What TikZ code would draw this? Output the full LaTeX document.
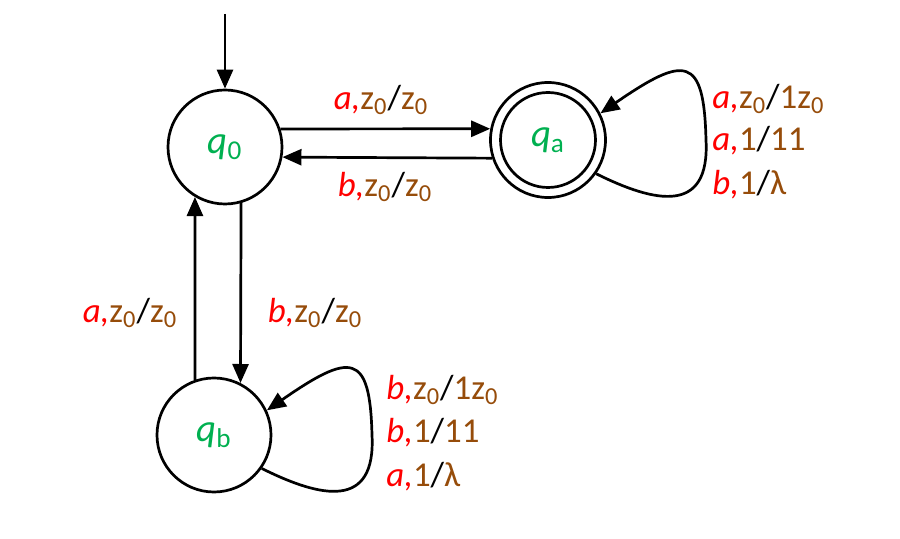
\documentclass[tikz,border=0pt]{standalone}
\usepackage{fontspec}
\setmainfont{Carlito}
\usetikzlibrary{arrows.meta}
\definecolor{brn}{RGB}{150,76,10}
\definecolor{grn}{RGB}{0,176,80}
\newcommand{\lab}[3]{\textcolor{red}{\textit{#1,}}\textcolor{brn}{#2}/\textcolor{brn}{#3}}
\newcommand{\zz}{z\textsubscript{0}}
\newcommand{\st}[1]{\textcolor{grn}{\textit{q}\textsubscript{#1}}}
\begin{document}
\begin{tikzpicture}[x=0.5bp,y=-0.5bp,
  every node/.style={font=\fontsize{17.5}{21}\selectfont},
  stlabel/.style={font=\fontsize{19.5}{23}\selectfont},
  state/.style={circle,draw,line width=1.35bp,minimum size=57bp,inner sep=0pt,stlabel},
  edge/.style={line width=1.35bp,-{Triangle[length=9.5bp,width=8bp]}},
  lbl/.style={inner sep=0pt,anchor=west}]
\useasboundingbox (0,0) rectangle (900,539);
\node[state] (q0) at (225,147) {\st{0}};
\node[state] (qb) at (214,435) {\st{b}};
\node[state,minimum size=57.5bp] (qa) at (548,140) {};
\node[state,minimum size=47.5bp] (qai) at (548,140) {\st{a}};
\coordinate (init) at (225,14);
\draw[edge] (init) -- (q0.north);
\draw[edge] (q0.18.4) -- (qa.169);
\draw[edge] (qa.-162.8) -- (q0.-10);
\draw[edge] (q0.-74.7) -- (qb.63);
\draw[edge] (qb.109.5) -- (q0.-121.8);
\draw[edge] (qa.-35) .. controls (655,203) and (710,215) .. (706,140)
   .. controls (704,55) and (685,55) .. (qa.27);
\draw[edge] (qb.-35) .. controls (321,498) and (376,510) .. (372,435)
   .. controls (370,352) and (351,352) .. (qb.25);
\node[anchor=center] (l1) at (381,100) {\lab{a}{\zz}{\zz}};
\node[anchor=center] (l2) at (385,187) {\lab{b}{\zz}{\zz}};
\node[anchor=center] (l3) at (130,313) {\lab{a}{\zz}{\zz}};
\node[anchor=center] (l4) at (315,313) {\lab{b}{\zz}{\zz}};
\node[lbl] (la1) at (712,99) {\lab{a}{\zz}{1\zz}};
\node[lbl] (la2) at (712,141) {\lab{a}{1}{11}};
\node[lbl] (la3) at (712,185) {\lab{b}{1}{λ}};
\node[lbl] (lb1) at (386,390) {\lab{b}{\zz}{1\zz}};
\node[lbl] (lb2) at (386,433) {\lab{b}{1}{11}};
\node[lbl] (lb3) at (386,477) {\lab{a}{1}{λ}};
\end{tikzpicture}
\end{document}
